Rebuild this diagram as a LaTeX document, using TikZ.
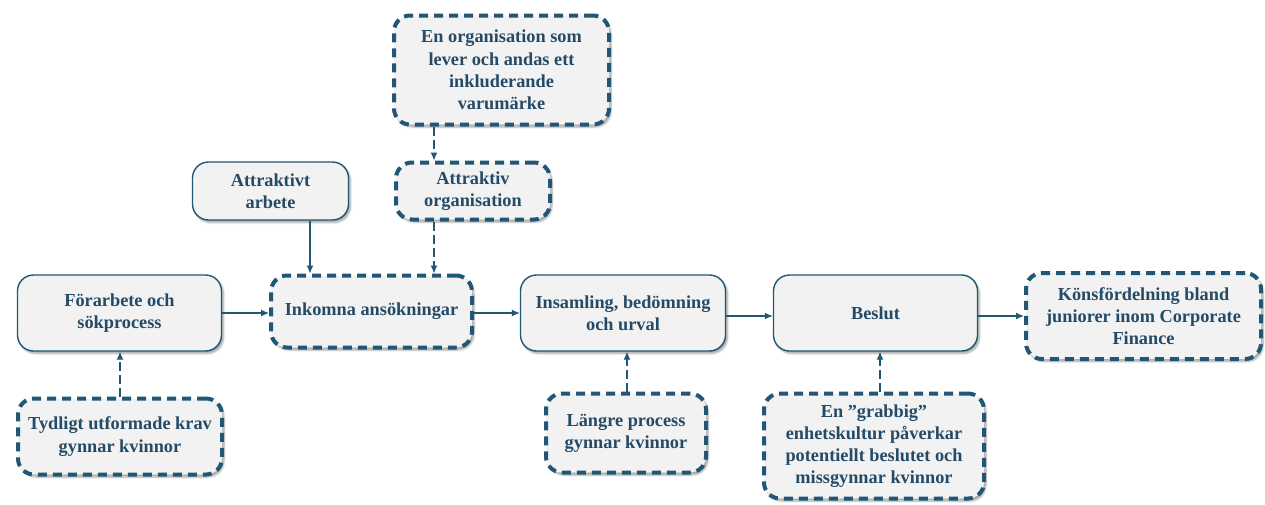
\documentclass[tikz,border=0pt]{standalone}
\usepackage{fontspec}
\setmainfont{Liberation Serif}
\usetikzlibrary{arrows.meta,shadows.blur}
\definecolor{ln}{RGB}{31,87,117}
\definecolor{tx}{RGB}{36,74,102}
\definecolor{bg}{RGB}{242,242,242}
\tikzset{
  base/.style={rounded corners=16pt, fill=bg, text=tx, align=center,
    font=\fontsize{18.3}{22.2}\selectfont\bfseries, inner sep=2pt,
    blur shadow={shadow xshift=2pt, shadow yshift=-2.5pt, shadow blur steps=6, shadow opacity=35}},
  solidbox/.style={base, draw=ln, line width=1.4pt},
  dashbox/.style={base, draw=ln, line width=4pt, dash pattern=on 9pt off 6pt},
  conn/.style={draw=ln, line width=1.2pt, -{Latex[length=8pt,width=7pt]}},
  dconn/.style={conn, dash pattern=on 9pt off 4pt},
}
\begin{document}
\begin{tikzpicture}[x=1pt,y=-1pt]
\useasboundingbox (0,0) rectangle (1265,504);
\node[solidbox, minimum width=204pt, minimum height=76pt] (forar) at (119.5,313) {Förarbete och\\sökprocess};
\node[dashbox, minimum width=201pt, minimum height=72pt] (ink) at (371.5,311.5) {Inkomna ansökningar};
\node[solidbox, minimum width=205pt, minimum height=76pt] (ins) at (623,313) {Insamling, bedömning\\och urval};
\node[solidbox, minimum width=204pt, minimum height=76pt] (bes) at (875.5,313) {Beslut};
\node[dashbox, minimum width=235pt, minimum height=86pt] (kon) at (1143.5,316) {Könsfördelning bland\\juniorer inom Corporate\\Finance};
\node[solidbox, minimum width=156pt, minimum height=58pt] (attr) at (270.5,191) {Attraktivt\\arbete};
\node[dashbox, minimum width=154pt, minimum height=57pt] (aorg) at (473,191) {Attraktiv\\organisation};
\node[dashbox, minimum width=215pt, minimum height=109pt] (org) at (501.5,70) {En organisation som\\lever och andas ett\\inkluderande\\varumärke};
\node[dashbox, minimum width=204pt, minimum height=76pt] (tyd) at (120,436.5) {Tydligt utformade krav\\gynnar kvinnor};
\node[dashbox, minimum width=160pt, minimum height=79pt] (lang) at (626,433) {Längre process\\gynnar kvinnor};
\node[dashbox, minimum width=220pt, minimum height=105pt] (grab) at (874,446) {En ”grabbig”\\enhetskultur påverkar\\potentiellt beslutet och\\missgynnar kvinnor};
\coordinate (xa) at (310,0);
\coordinate (xb) at (434,0);
\coordinate (xc) at (120,0);
\coordinate (xd) at (627,0);
\coordinate (xe) at (880,0);
\draw[conn] (forar.east |- 0,313) -- (ink.west |- 0,313);
\draw[conn] (ink.east |- 0,313) -- (ins.west |- 0,313);
\draw[conn] (ins.east |- 0,316) -- (bes.west |- 0,316);
\draw[conn] (bes.east |- 0,316) -- (kon.west |- 0,316);
\draw[conn] (attr.south -| xa) -- (ink.north -| xa);
\draw[dconn] (aorg.south -| xb) -- (ink.north -| xb);
\draw[dconn] (org.south -| xb) -- (aorg.north -| xb);
\draw[dconn] (tyd.north -| xc) -- (forar.south -| xc);
\draw[dconn] (lang.north -| xd) -- (ins.south -| xd);
\draw[dconn] (grab.north -| xe) -- (bes.south -| xe);
\end{tikzpicture}
\end{document}
